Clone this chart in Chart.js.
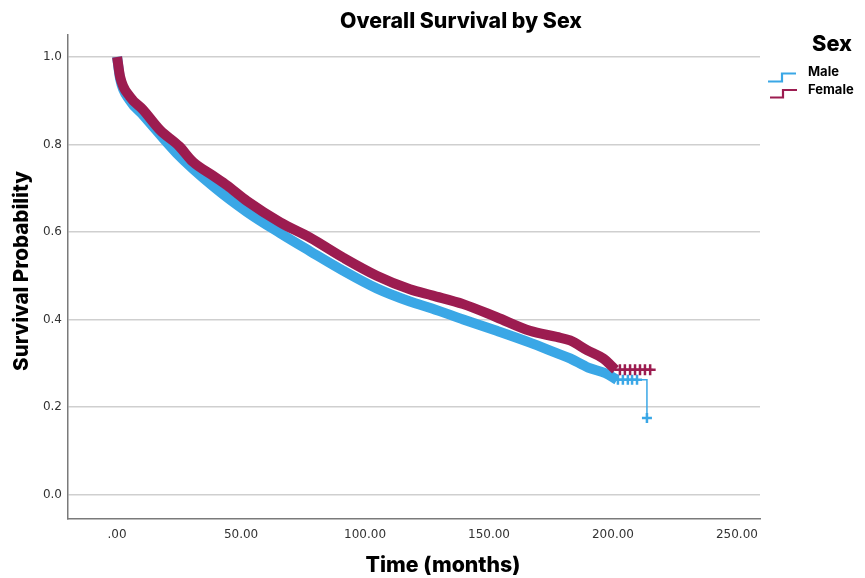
<!DOCTYPE html>
<html>
<head>
<meta charset="utf-8">
<script src="https://cdn.jsdelivr.net/npm/chart.js@4.4.1/dist/chart.umd.min.js"></script>
<style>
  html, body { margin: 0; padding: 0; background: #ffffff; }
  #wrap { width: 865px; height: 578px; }
</style>
</head>
<body>
<div id="wrap"><canvas id="c" width="865" height="578"></canvas></div>
<script>
// ---- data ----
const chartTitle = 'Overall Survival by Sex';
const xAxisTitle = 'Time (months)';
const yAxisTitle = 'Survival Probability';
const legendTitle = 'Sex';
const seriesNames = ['Male', 'Female'];

const xTickValues = [0, 50, 100, 150, 200, 250];
const xTickLabels = ['.00', '50.00', '100.00', '150.00', '200.00', '250.00'];
const yTickValues = [0, 0.2, 0.4, 0.6, 0.8, 1.0];
const yTickLabels = ['0.0', '0.2', '0.4', '0.6', '0.8', '1.0'];

// Female survival curve (months, probability)
const femaleTime = [0, 1.2, 5.2, 10.5, 17.3, 25, 30.6, 38.8, 44.4, 52.3, 65.8, 77.8, 91.3, 104.7, 118.1, 127, 139.6, 153.1, 166.5, 177.3, 182.7, 189.5, 196, 201];
const femaleSurv = [1.0, 0.955, 0.909, 0.879, 0.833, 0.796, 0.76, 0.728, 0.706, 0.671, 0.622, 0.587, 0.541, 0.5, 0.469, 0.455, 0.435, 0.405, 0.374, 0.36, 0.352, 0.33, 0.311, 0.285];
const femaleTailTime = [201, 216];
const femaleTailSurv = [0.285, 0.285];
const femaleCensorTime = [202.8, 204.8, 206.9, 208.9, 210.9, 212.9, 215];
const femaleCensorSurv = [0.285, 0.285, 0.285, 0.285, 0.285, 0.285, 0.285];

// Male survival curve (months, probability)
const maleTime = [0, 1.2, 5.2, 10.5, 24, 38.8, 52.3, 65.8, 77.8, 91.3, 104.7, 118.1, 127, 139.6, 153.1, 166.5, 177.3, 182.7, 190, 197, 201.6];
const maleSurv = [1.0, 0.95, 0.9, 0.867, 0.78, 0.704, 0.646, 0.597, 0.556, 0.511, 0.471, 0.441, 0.425, 0.4, 0.374, 0.347, 0.323, 0.311, 0.29, 0.277, 0.262];
const maleTailTime = [201.6, 213.7, 213.7];
const maleTailSurv = [0.262, 0.262, 0.175];
const maleCensorTime = [202, 204, 206, 207.7, 209.7, 213.7];
const maleCensorSurv = [0.262, 0.262, 0.262, 0.262, 0.262, 0.175];

// ---- styling ----
const MALE = '#3aa7e6';
const FEMALE = '#9c1c50';

function pts(xs, ys) { return xs.map((x, i) => ({ x: x, y: ys[i] })); }

const datasets = [
  { label: seriesNames[1], data: pts(femaleTime, femaleSurv), borderColor: FEMALE, backgroundColor: FEMALE,
    borderWidth: 10, pointRadius: 0, cubicInterpolationMode: 'monotone', borderJoinStyle: 'round', borderCapStyle: 'butt' },
  { label: seriesNames[1] + ' tail', data: pts(femaleTailTime, femaleTailSurv), borderColor: FEMALE,
    borderWidth: 2, pointRadius: 0 },
  { label: seriesNames[1] + ' censored', data: pts(femaleCensorTime, femaleCensorSurv), showLine: false,
    pointStyle: 'cross', pointRadius: 5.5, borderColor: FEMALE, borderWidth: 2.5, pointHoverRadius: 5.5 },
  { label: seriesNames[0], data: pts(maleTime, maleSurv), borderColor: MALE, backgroundColor: MALE,
    borderWidth: 10, pointRadius: 0, cubicInterpolationMode: 'monotone', borderJoinStyle: 'round', borderCapStyle: 'butt' },
  { label: seriesNames[0] + ' tail', data: pts(maleTailTime, maleTailSurv), borderColor: MALE,
    borderWidth: 1.5, pointRadius: 0 },
  { label: seriesNames[0] + ' censored', data: pts(maleCensorTime, maleCensorSurv), showLine: false,
    pointStyle: 'cross', pointRadius: 5, borderColor: MALE, borderWidth: 2.5, pointHoverRadius: 5 }
];

function fitFont(ctx, text, target, family, weight) {
  ctx.font = weight + ' 20px ' + family;
  const w = ctx.measureText(text).width;
  return 20 * target / w;
}

const textPlugin = {
  id: 'textPlugin',
  afterDraw(chart) {
    const ctx = chart.ctx;
    const fam = 'Inter, "Open Sans", sans-serif';
    ctx.save();
    ctx.fillStyle = '#000000';
    ctx.textBaseline = 'middle';
    ctx.textAlign = 'center';
    // title
    let s = fitFont(ctx, chartTitle, 242, fam, '800');
    ctx.font = '800 ' + s + 'px ' + fam;
    ctx.fillText(chartTitle, 461, 22);
    // x title
    s = fitFont(ctx, xAxisTitle, 155, fam, '800');
    ctx.font = '800 ' + s + 'px ' + fam;
    ctx.fillText(xAxisTitle, 443, 566);
    // y title
    s = fitFont(ctx, yAxisTitle, 200, fam, '800');
    ctx.font = '800 ' + s + 'px ' + fam;
    ctx.save();
    ctx.translate(22, 271);
    ctx.rotate(-Math.PI / 2);
    ctx.fillText(yAxisTitle, 0, 0);
    ctx.restore();
    // legend
    s = fitFont(ctx, legendTitle, 40, fam, '800');
    ctx.font = '800 ' + s + 'px ' + fam;
    ctx.fillText(legendTitle, 832, 44);
    ctx.textAlign = 'left';
    ctx.font = '700 13px ' + fam;
    ctx.fillText(seriesNames[0], 808, 72);
    ctx.fillText(seriesNames[1], 808, 90);
    ctx.lineWidth = 2.2;
    ctx.strokeStyle = MALE;
    ctx.beginPath();
    ctx.moveTo(768, 81.5); ctx.lineTo(782, 81.5); ctx.lineTo(782, 73.5); ctx.lineTo(796, 73.5);
    ctx.stroke();
    ctx.strokeStyle = FEMALE;
    ctx.beginPath();
    ctx.moveTo(770, 97.5); ctx.lineTo(783, 97.5); ctx.lineTo(783, 90); ctx.lineTo(797, 90);
    ctx.stroke();
    ctx.restore();
  }
};

const bgPlugin = {
  id: 'bg',
  beforeDraw(chart) {
    const ctx = chart.ctx;
    ctx.save();
    ctx.fillStyle = '#ffffff';
    ctx.fillRect(0, 0, chart.width, chart.height);
    ctx.restore();
  }
};

new Chart(document.getElementById('c'), {
  type: 'line',
  data: { datasets: datasets },
  options: {
    responsive: false,
    devicePixelRatio: 1,
    animation: false,
    layout: { padding: { left: 0, top: 35, right: 105, bottom: 0 } },
    plugins: { legend: { display: false }, title: { display: false }, tooltip: { enabled: false } },
    scales: {
      x: {
        type: 'linear',
        min: -19.8,
        max: 259.3,
        afterFit(scale) { scale.height = 59; },
        afterBuildTicks(scale) { scale.ticks = xTickValues.map(v => ({ value: v })); },
        grid: { display: false, drawTicks: false },
        border: { display: true, color: '#7a7a7a', width: 1.5 },
        ticks: {
          padding: 9,
          color: '#333333',
          font: { family: '"DejaVu Sans", sans-serif', size: 12 },
          maxRotation: 0,
          callback: (v) => { const i = xTickValues.indexOf(v); return i >= 0 ? xTickLabels[i] : ''; }
        }
      },
      y: {
        type: 'linear',
        min: -0.056,
        max: 1.05,
        afterFit(scale) { scale.width = 68; },
        afterBuildTicks(scale) { scale.ticks = yTickValues.map(v => ({ value: v })); },
        grid: { display: true, color: '#cfcfcf', lineWidth: 1.5, drawTicks: false },
        border: { display: true, color: '#7a7a7a', width: 1.5 },
        ticks: {
          padding: 6,
          color: '#333333',
          font: { family: '"DejaVu Sans", sans-serif', size: 12 },
          callback: (v) => { const i = yTickValues.findIndex(t => Math.abs(t - v) < 1e-9); return i >= 0 ? yTickLabels[i] : ''; }
        }
      }
    }
  },
  plugins: [bgPlugin, textPlugin]
});
</script>
</body>
</html>
